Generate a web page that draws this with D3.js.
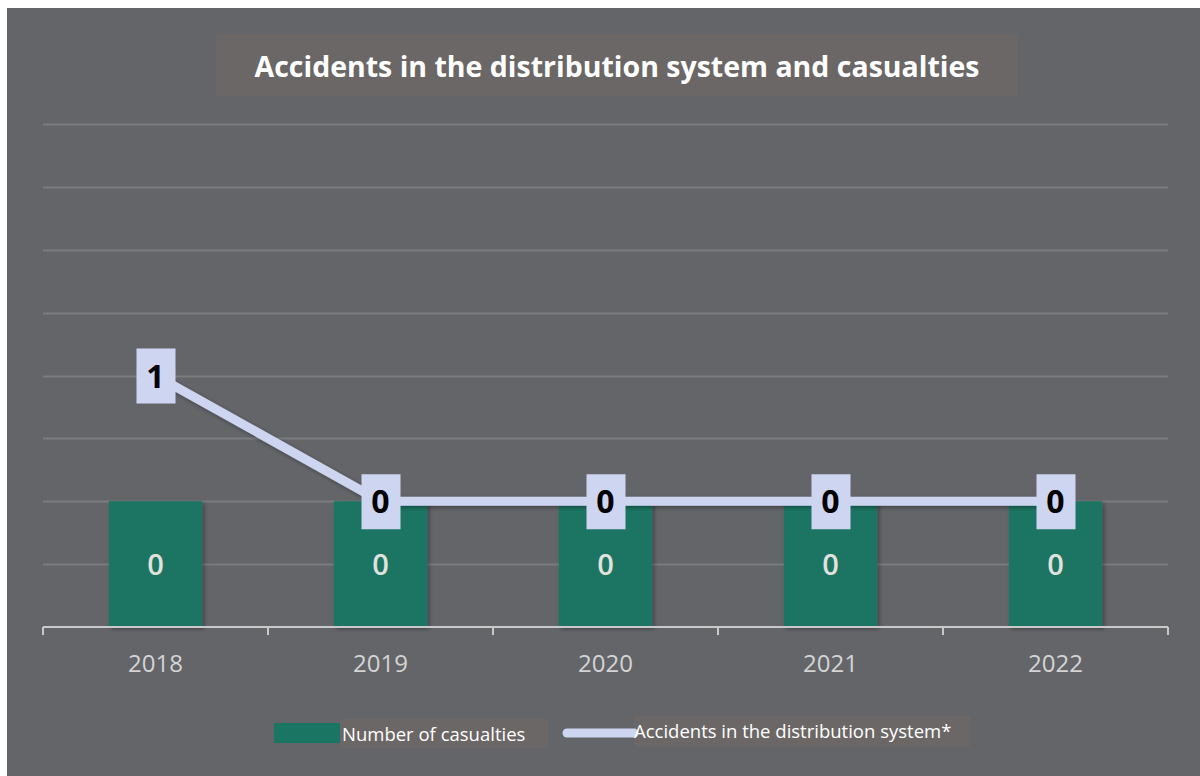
<!DOCTYPE html>
<meta charset="utf-8">
<head>
  <title>Accidents in the distribution system and casualties</title>
  <style>
    body { margin: 0; background: #fff; }
    text { font-family: "Open Sans", "Noto Sans", sans-serif; }
  </style>
</head>
<script src="https://d3js.org/d3.v7.min.js"></script>
<div id="chart"></div>
<script>

// data
var years = ["2018", "2019", "2020", "2021", "2022"];
var casualties = [0, 0, 0, 0, 0];
var accidents = [1, 0, 0, 0, 0];
var gridTicks = [-1, -0.5, 0, 0.5, 1, 1.5, 2, 2.5, 3];

var width = 1200, height = 776;

var svg = d3.select("#chart").append("svg")
    .attr("width", width)
    .attr("height", height);

var defs = svg.append("defs");
var shadow = defs.append("filter").attr("id", "shadow")
    .attr("x", "-20%").attr("y", "-20%").attr("width", "140%").attr("height", "140%");
shadow.append("feDropShadow")
    .attr("dx", 2).attr("dy", 2).attr("stdDeviation", 2)
    .attr("flood-color", "#000").attr("flood-opacity", 0.35);

// background panel
svg.append("rect")
    .attr("x", 7).attr("y", 8)
    .attr("width", width - 7).attr("height", height - 8)
    .attr("fill", "#646569");

// title
svg.append("rect")
    .attr("x", 216).attr("y", 34)
    .attr("width", 801).attr("height", 62)
    .attr("fill", "#6b6766");
svg.append("text")
    .attr("x", 617).attr("y", 77)
    .attr("text-anchor", "middle")
    .attr("fill", "#ffffff")
    .style("font-size", "29px")
    .style("font-weight", "bold")
    .attr("textLength", 725)
    .attr("lengthAdjust", "spacingAndGlyphs")
    .text("Accidents in the distribution system and casualties");

// scales
var x = d3.scaleBand()
    .domain(years)
    .range([43, 1168])
    .paddingInner(0.585)
    .paddingOuter(0.2925);

var y = d3.scaleLinear()
    .domain([-1, 3])
    .range([627, 124]);

// gridlines
svg.append("g").selectAll("line")
    .data(gridTicks.filter(function(d) { return d > -1; }))
    .enter().append("line")
    .attr("x1", 43).attr("x2", 1168)
    .attr("y1", function(d) { return Math.round(y(d)) + 0.5; })
    .attr("y2", function(d) { return Math.round(y(d)) + 0.5; })
    .attr("stroke", "#7b7c80")
    .attr("stroke-width", 2);

// bars (horizontal axis crosses at the axis minimum)
svg.append("g").selectAll("rect")
    .data(casualties)
    .enter().append("rect")
    .attr("x", function(d, i) { return x(years[i]); })
    .attr("y", function(d) { return y(d); })
    .attr("width", x.bandwidth())
    .attr("height", function(d) { return y(-1) - y(d); })
    .attr("fill", "#1b7563")
    .attr("filter", "url(#shadow)");

svg.append("g").selectAll("text")
    .data(casualties)
    .enter().append("text")
    .attr("x", function(d, i) { return x(years[i]) + x.bandwidth() / 2; })
    .attr("y", function(d) { return (y(d) + y(-1)) / 2 + 11; })
    .attr("text-anchor", "middle")
    .attr("fill", "#e2e2dc")
    .style("font-size", "29px")
    .style("font-weight", "600")
    .text(function(d) { return d; });

// x axis
var axis = svg.append("g")
    .attr("transform", "translate(0," + y(-1) + ")")
    .call(d3.axisBottom(x).tickSize(0).tickPadding(28));
axis.select(".domain").remove();
axis.selectAll("text")
    .attr("fill", "#d4d4d4")
    .style("font-size", "24px");

svg.append("line")
    .attr("x1", 43).attr("x2", 1168)
    .attr("y1", y(-1)).attr("y2", y(-1))
    .attr("stroke", "#c9c9c9").attr("stroke-width", 2);

var tickPos = years.map(function(d) { return x(d) - x.step() * x.paddingInner() / 2; });
tickPos.push(1168);
svg.append("g").selectAll("line")
    .data(tickPos)
    .enter().append("line")
    .attr("x1", function(d) { return d; })
    .attr("x2", function(d) { return d; })
    .attr("y1", y(-1)).attr("y2", y(-1) + 8)
    .attr("stroke", "#c9c9c9").attr("stroke-width", 2);

// line series
var line = d3.line()
    .x(function(d, i) { return x(years[i]) + x.bandwidth() / 2; })
    .y(function(d) { return y(d); });

svg.append("path")
    .attr("d", line(accidents))
    .attr("fill", "none")
    .attr("stroke", "#cdd5f1")
    .attr("stroke-width", 9)
    .attr("stroke-linejoin", "round")
    .attr("filter", "url(#shadow)");

var labels = svg.append("g").selectAll("g")
    .data(accidents)
    .enter().append("g")
    .attr("transform", function(d, i) {
      return "translate(" + (x(years[i]) + x.bandwidth() / 2) + "," + y(d) + ")";
    });
labels.append("rect")
    .attr("x", -19).attr("y", -27)
    .attr("width", 39).attr("height", 55)
    .attr("fill", "#cdd5f1");
labels.append("text")
    .attr("y", 12)
    .attr("text-anchor", "middle")
    .attr("fill", "#000")
    .style("font-size", "32px")
    .style("font-weight", "bold")
    .text(function(d) { return d; });

// legend
var legend = svg.append("g");
legend.append("rect")
    .attr("x", 340).attr("y", 719).attr("width", 208).attr("height", 29)
    .attr("fill", "#6b6766");
legend.append("rect")
    .attr("x", 274).attr("y", 723).attr("width", 66).attr("height", 20)
    .attr("fill", "#1b7563");
legend.append("text")
    .attr("x", 342).attr("y", 741)
    .attr("fill", "#ffffff")
    .style("font-size", "18.5px")
    .text("Number of casualties");

legend.append("rect")
    .attr("x", 634).attr("y", 716).attr("width", 336).attr("height", 31)
    .attr("fill", "#6b6766");
legend.append("line")
    .attr("x1", 567).attr("x2", 634)
    .attr("y1", 733).attr("y2", 733)
    .attr("stroke", "#cdd5f1")
    .attr("stroke-width", 9)
    .attr("stroke-linecap", "round");
legend.append("text")
    .attr("x", 634).attr("y", 738)
    .attr("fill", "#ffffff")
    .style("font-size", "18.5px")
    .text("Accidents in the distribution system*");

</script>
